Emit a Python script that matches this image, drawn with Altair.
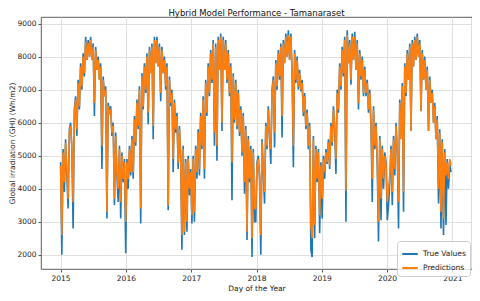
import altair as alt
import pandas as pd

# Weekly samples (Wh/m2)
true_2015 = [4800, 2000, 5200, 3900, 5500, 4400, 3400, 5800, 6000, 5200, 2800, 6400, 6800, 5600, 7300, 6400, 7800, 7000, 8100, 7400, 8600, 7900, 8500, 8000, 8600, 7900, 8400, 6200, 8300, 7600, 8000, 7300, 7800, 4600, 7400, 6800, 7100, 3100, 6600, 6300, 6500, 5600, 6000, 3500, 5700, 4400, 3600, 5300, 3100, 5100, 4200, 4900]
true_2016 = [2050, 4900, 4000, 5300, 4400, 5600, 4300, 6200, 5300, 6700, 5800, 7100, 2950, 7500, 6400, 7800, 6900, 8100, 5950, 8300, 7500, 8400, 5500, 8600, 7800, 8600, 7700, 8400, 6650, 8300, 7500, 8000, 7000, 7800, 3350, 7400, 6500, 7000, 4500, 6700, 5700, 6300, 4600, 5900, 5000, 2150, 5300, 2600, 4900, 2700, 5000, 3800]
true_2017 = [4600, 2950, 5000, 3000, 5300, 4300, 5800, 4400, 6300, 5200, 6800, 4300, 7300, 6200, 7800, 6800, 8200, 7200, 8500, 5300, 8400, 4850, 8600, 7600, 8700, 5750, 8600, 7600, 8500, 7200, 8200, 6800, 7800, 3650, 7500, 6000, 7300, 5800, 7000, 5600, 6500, 5000, 6300, 3850, 5900, 2450, 5600, 4200, 5300, 1930, 5200, 3000]
true_2018 = [3000, 4800, 5000, 4300, 2000, 5500, 4500, 3550, 6000, 5200, 6500, 5600, 4750, 7000, 7400, 5250, 7900, 7000, 8200, 7300, 8400, 5550, 8500, 7800, 8700, 8000, 8800, 7900, 8700, 7500, 4650, 8200, 7200, 8000, 7000, 7600, 6950, 7300, 6200, 6900, 5800, 6400, 5200, 6000, 2150, 1930, 5600, 2500, 5300, 4200, 5200, 2650]
true_2019 = [4800, 3100, 5000, 4300, 5200, 4750, 5500, 4600, 6000, 5300, 6500, 5800, 4450, 7000, 6300, 7800, 7000, 8300, 7400, 8600, 3000, 8800, 7800, 8500, 7150, 8700, 7900, 8750, 7600, 8500, 6400, 8200, 7300, 8000, 6800, 7700, 6800, 7300, 6300, 7000, 5900, 3600, 6500, 5200, 6000, 4700, 2400, 5600, 3050, 5300, 4000, 5100]
true_2020 = [4800, 3050, 3500, 4200, 5300, 3500, 5600, 4400, 6000, 5100, 2800, 6700, 5600, 7200, 3300, 7800, 6800, 8200, 7300, 8400, 5750, 8500, 7700, 8600, 7900, 8700, 8000, 8500, 6350, 8200, 7300, 8000, 7000, 7700, 5750, 7400, 6600, 7000, 6000, 6600, 5500, 6200, 3550, 5800, 2800, 5500, 2600, 5200, 2900, 4900, 4000, 4800, 4500]

pred_2015 = [4700, 2600, 5100, 4200, 5400, 4600, 3700, 5700, 5900, 5300, 3600, 6300, 6700, 5800, 7200, 6500, 7700, 7100, 8000, 7500, 8450, 7900, 8400, 8000, 8500, 7900, 8300, 6600, 8200, 7600, 7900, 7300, 7700, 5300, 7300, 6800, 7000, 3300, 6500, 6300, 6400, 5700, 5900, 3700, 5600, 4500, 4000, 5200, 3600, 5000, 4300, 4800]
pred_2016 = [3000, 4800, 4300, 5200, 4500, 5500, 4500, 6100, 5400, 6600, 5900, 7000, 3400, 7400, 6500, 7700, 7000, 8000, 6300, 8200, 7500, 8300, 5900, 8500, 7800, 8500, 7700, 8300, 6900, 8200, 7500, 7900, 7100, 7700, 3500, 7300, 6600, 6900, 4900, 6600, 5800, 6200, 4800, 5800, 5000, 2600, 5200, 2700, 4800, 3000, 4900, 4000]
pred_2017 = [4500, 3200, 4900, 3300, 5200, 4500, 5700, 4600, 6200, 5300, 6700, 4600, 7200, 6300, 7700, 6900, 8100, 7300, 8400, 5700, 8300, 5300, 8500, 7600, 8600, 6000, 8500, 7600, 8400, 7300, 8100, 6900, 7700, 4800, 7400, 6100, 7200, 5900, 6900, 5700, 6400, 5100, 6200, 4200, 5800, 2700, 5500, 4300, 5200, 2500, 5100, 3400]
pred_2018 = [3400, 4700, 4900, 4400, 2600, 5400, 4600, 3900, 5900, 5300, 6400, 5700, 5200, 6900, 7300, 5700, 7800, 7100, 8100, 7400, 8300, 6200, 8400, 7800, 8600, 8000, 8650, 7900, 8600, 7500, 5300, 8100, 7300, 7900, 7100, 7500, 7000, 7200, 6300, 6800, 5900, 6300, 5300, 5900, 2900, 2500, 5500, 2900, 5200, 4300, 5100, 3200]
pred_2019 = [4700, 3700, 4900, 4500, 5100, 4800, 5400, 4700, 5900, 5400, 6400, 5900, 4900, 6900, 6400, 7700, 7100, 8200, 7500, 8500, 3950, 8650, 7800, 8400, 7300, 8600, 7900, 8600, 7600, 8400, 6600, 8100, 7400, 7900, 6900, 7600, 6900, 7200, 6400, 6900, 6000, 4300, 6400, 5300, 5900, 4900, 3000, 5500, 3700, 5200, 4300, 5000]
pred_2020 = [4700, 3600, 4000, 4400, 5200, 3900, 5500, 4600, 5900, 5200, 3600, 6600, 5500, 7100, 3900, 7700, 6900, 8100, 7300, 8300, 5750, 8400, 7700, 8500, 7900, 8600, 8000, 8400, 6350, 8100, 7300, 7900, 7000, 7600, 5750, 7300, 6600, 6900, 6000, 6500, 5500, 6100, 4000, 5700, 3300, 5400, 3100, 5100, 4400, 4800, 4300, 4900, 4700]

series_names = ["True Values", "Predictions"]
series_colors = ["#1f77b4", "#ff7f0e"]
year_ticks = [2015, 2016, 2017, 2018, 2019, 2020, 2021]
y_ticks = [2000, 3000, 4000, 5000, 6000, 7000, 8000, 9000]

true_values = true_2015 + true_2016 + true_2017 + true_2018 + true_2019 + true_2020
pred_values = pred_2015 + pred_2016 + pred_2017 + pred_2018 + pred_2019 + pred_2020
n = len(true_values)
dates = pd.date_range("2015-01-01", periods=n, freq="7D")
dec_year = [d.year + (d.dayofyear - 1) / (366 if d.is_leap_year else 365) for d in dates]

df = pd.DataFrame({
    "t": dec_year * 2,
    "value": true_values + pred_values,
    "series": [series_names[0]] * n + [series_names[1]] * n,
})

color = alt.Color("series:N",
                  scale=alt.Scale(domain=series_names, range=series_colors),
                  legend=alt.Legend(title=None, orient="none", legendX=356, legendY=224))
x = alt.X("t:Q", title="Day of the Year",
          scale=alt.Scale(domain=[2014.7, 2021.3], nice=False, zero=False),
          axis=alt.Axis(values=year_ticks, format="d", labelPadding=2, titlePadding=3))
y = alt.Y("value:Q", title="Global irradiation (GHI) (Wh/m2)",
          scale=alt.Scale(domain=[1570, 9200], nice=False, zero=False),
          axis=alt.Axis(values=y_ticks, format="d", labelPadding=2, titlePadding=0))

base = alt.Chart(df)
l1 = base.transform_filter(alt.datum.series == series_names[0]).mark_line(strokeWidth=1.6).encode(x=x, y=y, color=color)
l2 = base.transform_filter(alt.datum.series == series_names[1]).mark_line(strokeWidth=1.6).encode(x=x, y=y, color=color)

chart = alt.layer(l1, l2).properties(
    width=431, height=252,
    title=alt.TitleParams("Hybrid Model Performance - Tamanaraset", offset=0),
    autosize=alt.AutoSizeParams(type="none"),
    padding={"left": 33, "top": 9, "right": 0, "bottom": 24},
).configure_view(
    stroke="#333333", strokeWidth=0.8
).configure_axis(
    domain=False, grid=True, gridColor="#dcdcdc", gridWidth=0.9,
    tickColor="#333333", tickSize=3, tickWidth=0.8,
    labelFont="DejaVu Sans", labelFontSize=7.5, labelColor="#222222",
    titleFont="DejaVu Sans", titleFontSize=7.5, titleFontWeight="normal", titleColor="#222222",
).configure_title(
    font="DejaVu Sans", fontSize=8.5, fontWeight="normal", color="#111111", anchor="middle"
).configure_legend(
    fillColor="rgba(255,255,255,0.8)", strokeColor="#cccccc", cornerRadius=3, padding=4,
    symbolType="stroke", symbolStrokeWidth=2, symbolSize=240,
    labelFont="DejaVu Sans", labelFontSize=7.5, labelColor="#222222", rowPadding=1,
)

chart.save("out.html", embed_options={"renderer": "svg", "actions": False})
